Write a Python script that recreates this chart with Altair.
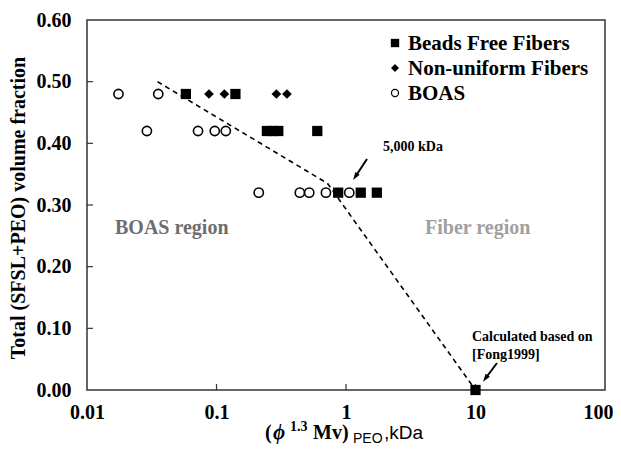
import altair as alt
import pandas as pd

# ---- data ----
beads_x = [0.058, 0.14, 0.245, 0.27, 0.30, 0.60, 0.87, 1.30, 1.73, 10.0]
beads_y = [0.48, 0.48, 0.42, 0.42, 0.42, 0.42, 0.32, 0.32, 0.32, 0.00]
nonuni_x = [0.0875, 0.115, 0.29, 0.35]
nonuni_y = [0.48, 0.48, 0.48, 0.48]
boas_x = [0.0175, 0.0355, 0.029, 0.072, 0.097, 0.118, 0.212, 0.44, 0.52, 0.70, 1.06]
boas_y = [0.48, 0.48, 0.42, 0.42, 0.42, 0.42, 0.32, 0.32, 0.32, 0.32, 0.32]
boundary_x = [0.035, 0.72, 10.0]
boundary_y = [0.50, 0.335, 0.0]
x_ticks = [0.01, 0.1, 1, 10, 100]
y_ticks = [0.0, 0.1, 0.2, 0.3, 0.4, 0.5, 0.6]
x_inner_ticks = [0.1, 1, 10]
y_inner_ticks = [0.1, 0.2, 0.3, 0.4, 0.5]
legend_labels = ["Beads Free Fibers", "Non-uniform Fibers", "BOAS"]

W, H = 518, 370
SERIF = "Liberation Serif"
SANS = "Liberation Sans"

xscale = alt.Scale(type="log", domain=[0.01, 100])
yscale = alt.Scale(domain=[0, 0.6])

xaxis = alt.Axis(values=x_ticks, labelExpr="format(datum.value, '~g')", title=None,
                 ticks=False, domain=False, grid=False, labelFont=SERIF,
                 labelFontWeight="bold", labelFontSize=20, labelColor="black",
                 labelPadding=12, labelFlush=False, labelOverlap=False,
                 labelOffset={"condition": {"test": "datum.value >= 100", "value": -7}, "value": 0})
yaxis = alt.Axis(values=y_ticks, format=".2f", title=None, ticks=False, domain=False,
                 grid=False, labelFont=SERIF, labelFontWeight="bold", labelFontSize=20,
                 labelColor="black", labelPadding=16)

df_beads = pd.DataFrame({"x": beads_x, "y": beads_y})
df_non = pd.DataFrame({"x": nonuni_x, "y": nonuni_y})
df_boas = pd.DataFrame({"x": boas_x, "y": boas_y})
df_line = pd.DataFrame({"x": boundary_x, "y": boundary_y, "o": list(range(len(boundary_x)))})

line = alt.Chart(df_line).mark_line(color="black", strokeDash=[5, 4], strokeWidth=1.6).encode(
    x=alt.X("x:Q", scale=xscale, axis=xaxis),
    y=alt.Y("y:Q", scale=yscale, axis=yaxis),
    order="o:Q",
)

beads = alt.Chart(df_beads).mark_point(shape="square", filled=True, size=105, color="black",
                                       opacity=1, clip=False).encode(
    x=alt.X("x:Q", scale=xscale), y=alt.Y("y:Q", scale=yscale))
nonu = alt.Chart(df_non).mark_point(shape="diamond", filled=True, size=95, color="black",
                                    opacity=1).encode(
    x=alt.X("x:Q", scale=xscale), y=alt.Y("y:Q", scale=yscale))
boas = alt.Chart(df_boas).mark_point(shape="circle", filled=True, fill="white", stroke="black",
                                     strokeWidth=1.6, size=85, opacity=1).encode(
    x=alt.X("x:Q", scale=xscale), y=alt.Y("y:Q", scale=yscale))

# inward ticks
xt = alt.Chart(pd.DataFrame({"v": x_inner_ticks})).mark_rule(color="#333", strokeWidth=1.2).encode(
    x=alt.X("v:Q", scale=xscale), y=alt.value(H), y2=alt.value(H - 6))
yt = alt.Chart(pd.DataFrame({"v": y_inner_ticks})).mark_rule(color="#333", strokeWidth=1.2).encode(
    y=alt.Y("v:Q", scale=yscale), x=alt.value(0), x2=alt.value(6))

def txt(s, x, y, size, font=SERIF, weight="bold", color="black", align="left",
        baseline="middle", angle=0, style="normal"):
    kw = dict(text=s, font=font, fontSize=size, fontWeight=weight, color=color,
              align=align, baseline=baseline, fontStyle=style)
    if angle:
        kw["angle"] = angle
    return alt.Chart(pd.DataFrame({"a": [0]})).mark_text(**kw).encode(
        x=alt.value(x), y=alt.value(y))

# legend (manual)
leg_shapes = ["square", "diamond", "circle"]
legend_layers = []
for i, (lab, shp) in enumerate(zip(legend_labels, leg_shapes)):
    yy = 23 + 25 * i
    if shp == "circle":
        m = alt.Chart(pd.DataFrame({"a": [0]})).mark_point(shape="circle", filled=True, fill="white",
            stroke="black", strokeWidth=1.2, size=50, opacity=1).encode(x=alt.value(308), y=alt.value(yy))
    else:
        m = alt.Chart(pd.DataFrame({"a": [0]})).mark_point(shape=shp, filled=True, color="black",
            size=70 if shp == "square" else 65, opacity=1).encode(x=alt.value(308), y=alt.value(yy))
    legend_layers += [m, txt(lab, 321, yy + 1, 21)]

# arrows
def arrow(x1, y1, cx, cy, ang):
    r = alt.Chart(pd.DataFrame({"a": [0]})).mark_rule(color="black", strokeWidth=2).encode(
        x=alt.value(x1), y=alt.value(y1), x2=alt.value(cx), y2=alt.value(cy))
    h = alt.Chart(pd.DataFrame({"a": [0]})).mark_point(shape="M0,-1L0.65,1L-0.65,1Z", filled=True,
        color="black", size=64, opacity=1, angle=ang).encode(x=alt.value(cx), y=alt.value(cy))
    return [r, h]

annots = []
annots += arrow(280, 139, 268.3, 156.7, 214)
annots += arrow(410, 343, 398.4, 358.5, 216)
annots += [
    txt("5,000 kDa", 296, 127, 14),
    txt("Calculated based on", 385, 317, 14),
    txt("[Fong1999]", 385, 335, 14),
    txt("BOAS region", 28, 208, 20, color="#6e6e6e"),
    txt("Fiber region", 338, 208, 20, color="#a0a0a0"),
    txt("Total (SFSL+PEO) volume fraction", -68, 188, 20, align="center", angle=270),
    # x title pieces
    txt("(", 178, 419, 20, baseline="alphabetic"),
    txt("\u03d5", 186, 419, 21, baseline="alphabetic", style="italic"),
    txt("1.3", 203, 411, 14, baseline="alphabetic"),
    txt("Mv)", 226, 419, 20, baseline="alphabetic"),
    txt("PEO", 266, 423, 14, font=SANS, weight="normal", baseline="alphabetic"),
    txt(",kDa", 297, 419, 19, font=SANS, weight="normal", baseline="alphabetic"),
]

chart = alt.layer(line, xt, yt, beads, nonu, boas, *legend_layers, *annots).properties(
    width=W, height=H,
    autosize=alt.AutoSizeParams(type="none"),
    padding={"left": 79, "top": 12, "right": 8, "bottom": 55},
).configure_view(stroke="#333", strokeWidth=1.5)

chart.save("out.html", embed_options={"renderer": "svg", "actions": False})
